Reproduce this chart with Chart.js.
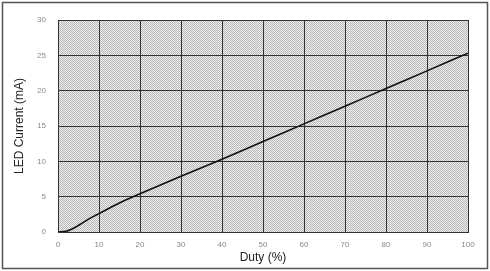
<!DOCTYPE html>
<html>
<head>
<meta charset="utf-8">
<script src="https://cdn.jsdelivr.net/npm/chart.js@4"></script>
<style>
  html, body { margin: 0; padding: 0; background: #fff; }
  #wrap { width: 490px; height: 271px; }
</style>
</head>
<body>
<div id="wrap"><canvas id="ledChart" width="490" height="271"></canvas></div>
<script>
// Data
const dutyValues = [0, 2, 4, 6, 8, 10, 15, 20, 30, 40, 50, 60, 70, 80, 90, 100];
const currentValues = [0, 0.1, 0.6, 1.3, 2.0, 2.6, 4.1, 5.4, 7.9, 10.3, 12.8, 15.3, 17.8, 20.3, 22.8, 25.3];
const xTicks = [0, 10, 20, 30, 40, 50, 60, 70, 80, 90, 100];
const yTicks = [0, 5, 10, 15, 20, 25, 30];

// dithered gray background like the scanned plot
function makePattern(ctx) {
  const c = document.createElement('canvas');
  c.width = 4; c.height = 4;
  const p = c.getContext('2d');
  p.fillStyle = '#eeeeee';
  p.fillRect(0, 0, 4, 4);
  p.fillStyle = '#b8b8b8';
  for (let y = 0; y < 4; y++) {
    for (let x = 0; x < 4; x++) {
      if ((x + y) % 2 === 0) p.fillRect(x, y, 1, 1);
    }
  }
  return ctx.createPattern(c, 'repeat');
}

const backdrop = {
  id: 'backdrop',
  beforeDraw(chart) {
    const { ctx, chartArea: a } = chart;
    ctx.save();
    ctx.fillStyle = makePattern(ctx);
    ctx.fillRect(a.left, a.top, a.right - a.left, a.bottom - a.top);
    ctx.restore();
  },
  afterDraw(chart) {
    const ctx = chart.ctx;
    ctx.save();
    ctx.strokeStyle = '#555';
    ctx.lineWidth = 1.5;
    ctx.strokeRect(2.5, 2.5, 485, 266);
    ctx.restore();
  }
};

new Chart(document.getElementById('ledChart'), {
  type: 'line',
  data: {
    datasets: [{
      data: dutyValues.map((d, i) => ({ x: d, y: currentValues[i] })),
      borderColor: '#111',
      borderWidth: 1.6,
      pointRadius: 0,
      tension: 0.4,
      cubicInterpolationMode: 'monotone',
      fill: false
    }]
  },
  options: {
    responsive: false,
    animation: false,
    layout: { padding: { top: 20, right: 22, bottom: 6, left: 0 } },
    plugins: { legend: { display: false }, tooltip: { enabled: false } },
    scales: {
      x: {
        type: 'linear',
        min: 0, max: 100,
        afterBuildTicks: s => { s.ticks = xTicks.map(v => ({ value: v })); },
        grid: { color: '#333', lineWidth: 1, drawTicks: false },
        border: { color: '#333' },
        ticks: { color: '#888', padding: 8, font: { family: 'Liberation Sans', size: 8 } },
        title: { display: true, text: 'Duty (%)', color: '#222', padding: { top: 0, bottom: 0 },
                 font: { family: 'Liberation Sans', size: 12 } },
        afterFit: s => { s.height = 33; }
      },
      y: {
        min: 0, max: 30,
        afterBuildTicks: s => { s.ticks = yTicks.map(v => ({ value: v })); },
        grid: { color: '#333', lineWidth: 1, drawTicks: false },
        border: { color: '#333' },
        ticks: { color: '#888', padding: 12, font: { family: 'Liberation Sans', size: 8 } },
        title: { display: true, text: 'LED Current (mA)', color: '#222', padding: { top: 12, bottom: 0 },
                 font: { family: 'Liberation Sans', size: 12 } },
        afterFit: s => { s.width = 58; }
      }
    }
  },
  plugins: [backdrop]
});
</script>
</body>
</html>
